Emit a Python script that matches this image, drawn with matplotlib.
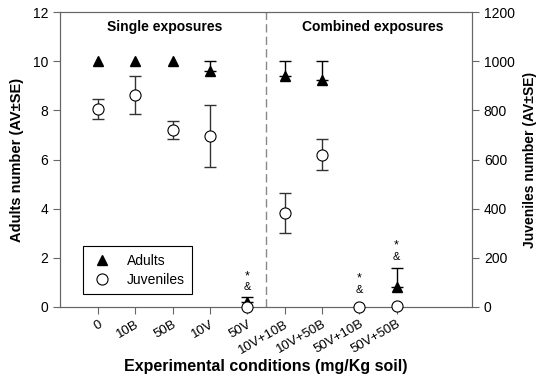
import matplotlib
matplotlib.use("Agg")
import matplotlib.pyplot as plt
from matplotlib.lines import Line2D
import numpy as np

plt.rcParams['font.family'] = ['Liberation Sans', 'DejaVu Sans']

categories = ["0", "10B", "50B", "10V", "50V", "10V+10B", "10V+50B", "50V+10B", "50V+50B"]
adults = [10, 10, 10, 9.6, 0.2, 9.4, 9.25, 0, 0.8]
adults_err = [0, 0, 0, 0.4, 0.2, 0.6, 0.75, 0, 0.8]
juveniles = [805, 862, 720, 695, 0, 382, 620, 0, 5]
juveniles_err = [40, 77, 37, 125, 0, 82, 62, 0, 0]
sig_idx = [4, 7, 8]
sig_amp_y = [0.81, 0.69, 2.03]   # adult-axis units
sig_star_y = [1.26, 1.18, 2.5]

fig = plt.figure(figsize=(5.5, 3.79), dpi=100)
ax = fig.add_axes([60/550, 1-307/379, 412/550, 295/379])
ax2 = ax.twinx()
x = np.arange(len(categories))
gray = '#666666'

ae = np.array(adults_err)
m = ae > 0
ax.errorbar(x[m], np.array(adults)[m], yerr=[np.zeros(m.sum()), ae[m]], fmt='none', ecolor='black',
            capsize=4, elinewidth=1, capthick=1, zorder=2)
ax.plot(x, adults, '^', color='black', ms=7, zorder=3)

je = np.array(juveniles_err)
mj = je > 0
ax2.errorbar(x[mj], np.array(juveniles)[mj], yerr=je[mj], fmt='none', ecolor='#333333',
             capsize=4, elinewidth=1, capthick=1, zorder=2)
ax2.plot(x, juveniles, 'o', mfc='white', mec='black', ms=8, mew=0.8, zorder=3, clip_on=False)

ax.set_xlim(-1.02, 10.02)
ax.set_ylim(0, 12)
ax2.set_ylim(0, 1200)
ax.set_yticks(range(0, 13, 2))
ax2.set_yticks(range(0, 1201, 200))
ax.set_xticks(x)
ax.set_xticklabels(categories, rotation=30, ha='right', rotation_mode='anchor', fontsize=9.5)
for a in (ax, ax2):
    a.tick_params(direction='out', length=5, color=gray, labelsize=10, labelcolor='black')
    for s in a.spines.values():
        s.set_color(gray)
ax.tick_params(axis='x', pad=3, labelsize=9.5)
ax.axvline(4.5, color='#888888', ls=(0, (6, 3)), lw=1)

for i, ya, ys in zip(sig_idx, sig_amp_y, sig_star_y):
    ax2.text(i, ys * 100, '*', ha='center', va='center', fontsize=9)
    ax2.text(i, ya * 100, '&', ha='center', va='center', fontsize=8)

ax2.text(1.78, 1138, 'Single exposures', ha='center', va='center', fontweight='bold', fontsize=10)
ax2.text(7.35, 1138, 'Combined exposures', ha='center', va='center', fontweight='bold', fontsize=10)

ax.set_ylabel('Adults number (AV±SE)', fontweight='bold', fontsize=10.5, labelpad=6)
ax2.set_ylabel('Juveniles number (AV±SE)', fontweight='bold', fontsize=10, labelpad=6)
ax.set_xlabel('Experimental conditions (mg/Kg soil)', fontweight='bold', fontsize=11.5, labelpad=2)

handles = [Line2D([], [], ls='none', marker='^', color='black', ms=7),
           Line2D([], [], ls='none', marker='o', mfc='white', mec='black', ms=8, mew=0.8)]
leg = ax2.legend(handles, ['Adults', 'Juveniles'], loc='lower left', bbox_to_anchor=(0.039, 0.02),
                 fancybox=False, edgecolor='black', fontsize=10, handletextpad=1.0, borderpad=0.55,
                 handlelength=1.6, labelspacing=0.35, framealpha=1)
leg.get_frame().set_linewidth(0.8)
fig.savefig('out.png', dpi=100)
